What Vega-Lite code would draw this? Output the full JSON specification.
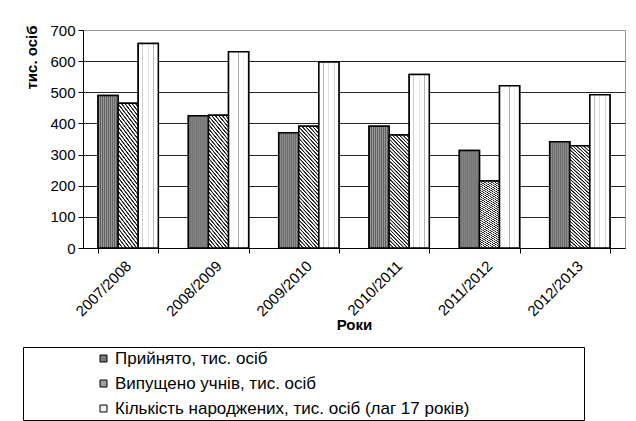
{
  "$schema": "https://vega.github.io/schema/vega-lite/v6.json",
  "width": 542,
  "height": 218,
  "autosize": {"type": "none"},
  "padding": {"left": 83, "top": 30, "right": 11, "bottom": 173},
  "background": "white",
  "data": {
    "values": [
      {"year": "2007/2008", "series": "Прийнято, тис. осіб", "value": 490},
      {"year": "2007/2008", "series": "Випущено учнів, тис. осіб", "value": 465},
      {"year": "2007/2008", "series": "Кількість народжених, тис. осіб (лаг 17 років)", "value": 657},
      {"year": "2008/2009", "series": "Прийнято, тис. осіб", "value": 425},
      {"year": "2008/2009", "series": "Випущено учнів, тис. осіб", "value": 426},
      {"year": "2008/2009", "series": "Кількість народжених, тис. осіб (лаг 17 років)", "value": 630},
      {"year": "2009/2010", "series": "Прийнято, тис. осіб", "value": 370},
      {"year": "2009/2010", "series": "Випущено учнів, тис. осіб", "value": 391},
      {"year": "2009/2010", "series": "Кількість народжених, тис. осіб (лаг 17 років)", "value": 597},
      {"year": "2010/2011", "series": "Прийнято, тис. осіб", "value": 391},
      {"year": "2010/2011", "series": "Випущено учнів, тис. осіб", "value": 363},
      {"year": "2010/2011", "series": "Кількість народжених, тис. осіб (лаг 17 років)", "value": 557},
      {"year": "2011/2012", "series": "Прийнято, тис. осіб", "value": 313},
      {"year": "2011/2012", "series": "Випущено учнів, тис. осіб", "value": 215},
      {"year": "2011/2012", "series": "Кількість народжених, тис. осіб (лаг 17 років)", "value": 521},
      {"year": "2012/2013", "series": "Прийнято, тис. осіб", "value": 341},
      {"year": "2012/2013", "series": "Випущено учнів, тис. осіб", "value": 328},
      {"year": "2012/2013", "series": "Кількість народжених, тис. осіб (лаг 17 років)", "value": 492}
    ]
  },
  "encoding": {
    "x": {
      "field": "year",
      "type": "nominal",
      "sort": null,
      "scale": {"paddingInner": 0.333, "paddingOuter": 0.1667},
      "axis": {
        "title": "Роки",
        "titleFontSize": 15,
        "titleFontWeight": "bold",
        "titleColor": "black",
        "titleBaseline": "top",
        "titleY": 69,
        "labelAngle": -45,
        "labelAlign": "right",
        "labelBaseline": "middle",
        "labelFontSize": 15,
        "labelColor": "black",
        "labelPadding": 10,
        "tickBand": "extent",
        "tickSize": 5,
        "tickColor": "black",
        "domainColor": "black",
        "domainWidth": 1,
        "grid": false
      }
    },
    "xOffset": {
      "field": "series",
      "type": "nominal",
      "sort": ["Прийнято, тис. осіб", "Випущено учнів, тис. осіб", "Кількість народжених, тис. осіб (лаг 17 років)"],
      "scale": {"domain": ["Прийнято, тис. осіб", "Випущено учнів, тис. осіб", "Кількість народжених, тис. осіб (лаг 17 років)"], "paddingInner": 0, "paddingOuter": 0}
    },
    "y": {
      "field": "value",
      "type": "quantitative",
      "scale": {"domain": [0, 700]},
      "axis": {
        "title": "тис. осіб",
        "titleFontSize": 15,
        "titleFontWeight": "bold",
        "titleColor": "black",
        "titleAnchor": "end",
        "titleAlign": "right",
        "titleBaseline": "alphabetic",
        "titleX": -47,
        "titleY": -5,
        "values": [0, 100, 200, 300, 400, 500, 600, 700],
        "labelFontSize": 15,
        "labelColor": "black",
        "labelPadding": 3,
        "tickSize": 5,
        "tickColor": "black",
        "domainColor": "black",
        "gridColor": {"condition": {"test": "datum.value === 700", "value": "#999999"}, "value": "#262626"}
      }
    }
  },
  "layer": [
    {
      "mark": {"type": "bar", "stroke": "black", "strokeWidth": 1.5},
      "encoding": {
        "fill": {
          "field": "series",
          "type": "nominal",
          "sort": ["Прийнято, тис. осіб", "Випущено учнів, тис. осіб", "Кількість народжених, тис. осіб (лаг 17 років)"],
          "scale": {
            "domain": ["Прийнято, тис. осіб", "Випущено учнів, тис. осіб", "Кількість народжених, тис. осіб (лаг 17 років)"],
            "range": ["#7a7a7a", "#a0a0a0", "#f0f0f0"]
          },
          "legend": {
            "title": " ",
            "titleOrient": "right",
            "titlePadding": 112,
            "titleFontSize": 15,
            "orient": "none",
            "legendX": -60,
            "legendY": 317,
            "direction": "vertical",
            "padding": 3,
            "strokeColor": "black",
            "fillColor": "white",
            "symbolType": "square",
            "symbolSize": 49,
            "symbolStrokeColor": "black",
            "symbolStrokeWidth": 1,
            "symbolOffset": 69,
            "labelOffset": 3,
            "labelFontSize": 17,
            "labelColor": "black",
            "labelLimit": 700,
            "rowPadding": 7
          }
        }
      }
    },
    {
      "transform": [{"filter": "datum.series === 'Прийнято, тис. осіб'"}],
      "mark": {
        "type": "bar",
        "stroke": "black",
        "strokeWidth": 1.5,
        "fill": {
          "gradient": "linear", "x1": 0, "y1": 0, "x2": 1, "y2": 0,
          "stops": [
            {"offset": 0.025, "color": "#5c5c5c"}, {"offset": 0.075, "color": "#9c9c9c"},
            {"offset": 0.125, "color": "#5c5c5c"}, {"offset": 0.175, "color": "#9c9c9c"},
            {"offset": 0.225, "color": "#5c5c5c"}, {"offset": 0.275, "color": "#9c9c9c"},
            {"offset": 0.325, "color": "#5c5c5c"}, {"offset": 0.375, "color": "#9c9c9c"},
            {"offset": 0.425, "color": "#5c5c5c"}, {"offset": 0.475, "color": "#9c9c9c"},
            {"offset": 0.525, "color": "#5c5c5c"}, {"offset": 0.575, "color": "#9c9c9c"},
            {"offset": 0.625, "color": "#5c5c5c"}, {"offset": 0.675, "color": "#9c9c9c"},
            {"offset": 0.725, "color": "#5c5c5c"}, {"offset": 0.775, "color": "#9c9c9c"},
            {"offset": 0.825, "color": "#5c5c5c"}, {"offset": 0.875, "color": "#9c9c9c"},
            {"offset": 0.925, "color": "#5c5c5c"}, {"offset": 0.975, "color": "#9c9c9c"}
          ]
        }
      }
    },
    {
      "transform": [{"filter": "datum.series === 'Випущено учнів, тис. осіб'"}],
      "mark": {
        "type": "bar",
        "stroke": "black",
        "strokeWidth": 1.5,
        "fill": {
          "gradient": "linear", "x1": 0, "y1": 1, "x2": 1, "y2": -4.5,
          "stops": [
            {"offset": 0, "color": "#ffffff"}, {"offset": 0.0009, "color": "#1a1a1a"}, {"offset": 0.0023, "color": "#1a1a1a"}, {"offset": 0.0032, "color": "#ffffff"},
            {"offset": 0.0056, "color": "#ffffff"}, {"offset": 0.0065, "color": "#1a1a1a"}, {"offset": 0.0079, "color": "#1a1a1a"}, {"offset": 0.0088, "color": "#ffffff"},
            {"offset": 0.0112, "color": "#ffffff"}, {"offset": 0.0121, "color": "#1a1a1a"}, {"offset": 0.0135, "color": "#1a1a1a"}, {"offset": 0.0144, "color": "#ffffff"},
            {"offset": 0.0168, "color": "#ffffff"}, {"offset": 0.0177, "color": "#1a1a1a"}, {"offset": 0.0191, "color": "#1a1a1a"}, {"offset": 0.02, "color": "#ffffff"},
            {"offset": 0.0224, "color": "#ffffff"}, {"offset": 0.0233, "color": "#1a1a1a"}, {"offset": 0.0247, "color": "#1a1a1a"}, {"offset": 0.0256, "color": "#ffffff"},
            {"offset": 0.028, "color": "#ffffff"}, {"offset": 0.0289, "color": "#1a1a1a"}, {"offset": 0.0303, "color": "#1a1a1a"}, {"offset": 0.0312, "color": "#ffffff"},
            {"offset": 0.0336, "color": "#ffffff"}, {"offset": 0.0345, "color": "#1a1a1a"}, {"offset": 0.0359, "color": "#1a1a1a"}, {"offset": 0.0368, "color": "#ffffff"},
            {"offset": 0.0392, "color": "#ffffff"}, {"offset": 0.0401, "color": "#1a1a1a"}, {"offset": 0.0415, "color": "#1a1a1a"}, {"offset": 0.0424, "color": "#ffffff"},
            {"offset": 0.0448, "color": "#ffffff"}, {"offset": 0.0457, "color": "#1a1a1a"}, {"offset": 0.0471, "color": "#1a1a1a"}, {"offset": 0.048, "color": "#ffffff"},
            {"offset": 0.0504, "color": "#ffffff"}, {"offset": 0.0513, "color": "#1a1a1a"}, {"offset": 0.0527, "color": "#1a1a1a"}, {"offset": 0.0536, "color": "#ffffff"},
            {"offset": 0.056, "color": "#ffffff"}, {"offset": 0.0569, "color": "#1a1a1a"}, {"offset": 0.0583, "color": "#1a1a1a"}, {"offset": 0.0592, "color": "#ffffff"},
            {"offset": 0.0616, "color": "#ffffff"}, {"offset": 0.0625, "color": "#1a1a1a"}, {"offset": 0.0639, "color": "#1a1a1a"}, {"offset": 0.0648, "color": "#ffffff"},
            {"offset": 0.0672, "color": "#ffffff"}, {"offset": 0.0681, "color": "#1a1a1a"}, {"offset": 0.0695, "color": "#1a1a1a"}, {"offset": 0.0704, "color": "#ffffff"},
            {"offset": 0.0728, "color": "#ffffff"}, {"offset": 0.0737, "color": "#1a1a1a"}, {"offset": 0.0751, "color": "#1a1a1a"}, {"offset": 0.076, "color": "#ffffff"},
            {"offset": 0.0784, "color": "#ffffff"}, {"offset": 0.0793, "color": "#1a1a1a"}, {"offset": 0.0807, "color": "#1a1a1a"}, {"offset": 0.0816, "color": "#ffffff"},
            {"offset": 0.084, "color": "#ffffff"}, {"offset": 0.0849, "color": "#1a1a1a"}, {"offset": 0.0863, "color": "#1a1a1a"}, {"offset": 0.0872, "color": "#ffffff"},
            {"offset": 0.0896, "color": "#ffffff"}, {"offset": 0.0905, "color": "#1a1a1a"}, {"offset": 0.0919, "color": "#1a1a1a"}, {"offset": 0.0928, "color": "#ffffff"},
            {"offset": 0.0952, "color": "#ffffff"}, {"offset": 0.0961, "color": "#1a1a1a"}, {"offset": 0.0975, "color": "#1a1a1a"}, {"offset": 0.0984, "color": "#ffffff"},
            {"offset": 0.1008, "color": "#ffffff"}, {"offset": 0.1017, "color": "#1a1a1a"}, {"offset": 0.1031, "color": "#1a1a1a"}, {"offset": 0.104, "color": "#ffffff"},
            {"offset": 0.1064, "color": "#ffffff"}, {"offset": 0.1073, "color": "#1a1a1a"}, {"offset": 0.1087, "color": "#1a1a1a"}, {"offset": 0.1096, "color": "#ffffff"},
            {"offset": 0.112, "color": "#ffffff"}, {"offset": 0.1129, "color": "#1a1a1a"}, {"offset": 0.1143, "color": "#1a1a1a"}, {"offset": 0.1152, "color": "#ffffff"},
            {"offset": 0.1176, "color": "#ffffff"}, {"offset": 0.1185, "color": "#1a1a1a"}, {"offset": 0.1199, "color": "#1a1a1a"}, {"offset": 0.1208, "color": "#ffffff"},
            {"offset": 0.1232, "color": "#ffffff"}, {"offset": 0.1241, "color": "#1a1a1a"}, {"offset": 0.1255, "color": "#1a1a1a"}, {"offset": 0.1264, "color": "#ffffff"},
            {"offset": 0.1288, "color": "#ffffff"}, {"offset": 0.1297, "color": "#1a1a1a"}, {"offset": 0.1311, "color": "#1a1a1a"}, {"offset": 0.132, "color": "#ffffff"},
            {"offset": 0.1344, "color": "#ffffff"}, {"offset": 0.1353, "color": "#1a1a1a"}, {"offset": 0.1367, "color": "#1a1a1a"}, {"offset": 0.1376, "color": "#ffffff"},
            {"offset": 0.14, "color": "#ffffff"}, {"offset": 0.1409, "color": "#1a1a1a"}, {"offset": 0.1423, "color": "#1a1a1a"}, {"offset": 0.1432, "color": "#ffffff"},
            {"offset": 0.1456, "color": "#ffffff"}, {"offset": 0.1465, "color": "#1a1a1a"}, {"offset": 0.1479, "color": "#1a1a1a"}, {"offset": 0.1488, "color": "#ffffff"},
            {"offset": 0.1512, "color": "#ffffff"}, {"offset": 0.1521, "color": "#1a1a1a"}, {"offset": 0.1535, "color": "#1a1a1a"}, {"offset": 0.1544, "color": "#ffffff"},
            {"offset": 0.1568, "color": "#ffffff"}, {"offset": 0.1577, "color": "#1a1a1a"}, {"offset": 0.1591, "color": "#1a1a1a"}, {"offset": 0.16, "color": "#ffffff"},
            {"offset": 0.1624, "color": "#ffffff"}, {"offset": 0.1633, "color": "#1a1a1a"}, {"offset": 0.1647, "color": "#1a1a1a"}, {"offset": 0.1656, "color": "#ffffff"},
            {"offset": 0.168, "color": "#ffffff"}, {"offset": 0.1689, "color": "#1a1a1a"}, {"offset": 0.1703, "color": "#1a1a1a"}, {"offset": 0.1712, "color": "#ffffff"},
            {"offset": 0.1736, "color": "#ffffff"}, {"offset": 0.1745, "color": "#1a1a1a"}, {"offset": 0.1759, "color": "#1a1a1a"}, {"offset": 0.1768, "color": "#ffffff"},
            {"offset": 0.1792, "color": "#ffffff"}, {"offset": 0.1801, "color": "#1a1a1a"}, {"offset": 0.1815, "color": "#1a1a1a"}, {"offset": 0.1824, "color": "#ffffff"},
            {"offset": 0.1848, "color": "#ffffff"}, {"offset": 0.1857, "color": "#1a1a1a"}, {"offset": 0.1871, "color": "#1a1a1a"}, {"offset": 0.188, "color": "#ffffff"},
            {"offset": 0.1904, "color": "#ffffff"}, {"offset": 0.1913, "color": "#1a1a1a"}, {"offset": 0.1927, "color": "#1a1a1a"}, {"offset": 0.1936, "color": "#ffffff"},
            {"offset": 0.196, "color": "#ffffff"}, {"offset": 0.1969, "color": "#1a1a1a"}, {"offset": 0.1983, "color": "#1a1a1a"}, {"offset": 0.1992, "color": "#ffffff"},
            {"offset": 0.2016, "color": "#ffffff"}, {"offset": 0.2025, "color": "#1a1a1a"}, {"offset": 0.2039, "color": "#1a1a1a"}, {"offset": 0.2048, "color": "#ffffff"},
            {"offset": 0.2072, "color": "#ffffff"}, {"offset": 0.2081, "color": "#1a1a1a"}, {"offset": 0.2095, "color": "#1a1a1a"}, {"offset": 0.2104, "color": "#ffffff"},
            {"offset": 1, "color": "#ffffff"}
          ]
        }
      }
    },
    {
      "transform": [{"filter": "datum.series === 'Кількість народжених, тис. осіб (лаг 17 років)'"}],
      "mark": {
        "type": "bar",
        "stroke": "black",
        "strokeWidth": 1.5,
        "fill": {
          "gradient": "linear", "x1": 0, "y1": 0, "x2": 1, "y2": 0,
          "stops": [
            {"offset": 0, "color": "#ffffff"}, {"offset": 0.2, "color": "#ffffff"}, {"offset": 0.225, "color": "#a8a8a8"}, {"offset": 0.25, "color": "#ffffff"},
            {"offset": 0.47, "color": "#ffffff"}, {"offset": 0.495, "color": "#a8a8a8"}, {"offset": 0.52, "color": "#ffffff"},
            {"offset": 0.74, "color": "#ffffff"}, {"offset": 0.765, "color": "#a8a8a8"}, {"offset": 0.79, "color": "#ffffff"},
            {"offset": 1, "color": "#ffffff"}
          ]
        }
      }
    }
  ],
  "config": {
    "font": "Liberation Sans",
    "view": {"stroke": "#999999", "strokeWidth": 1}
  }
}
